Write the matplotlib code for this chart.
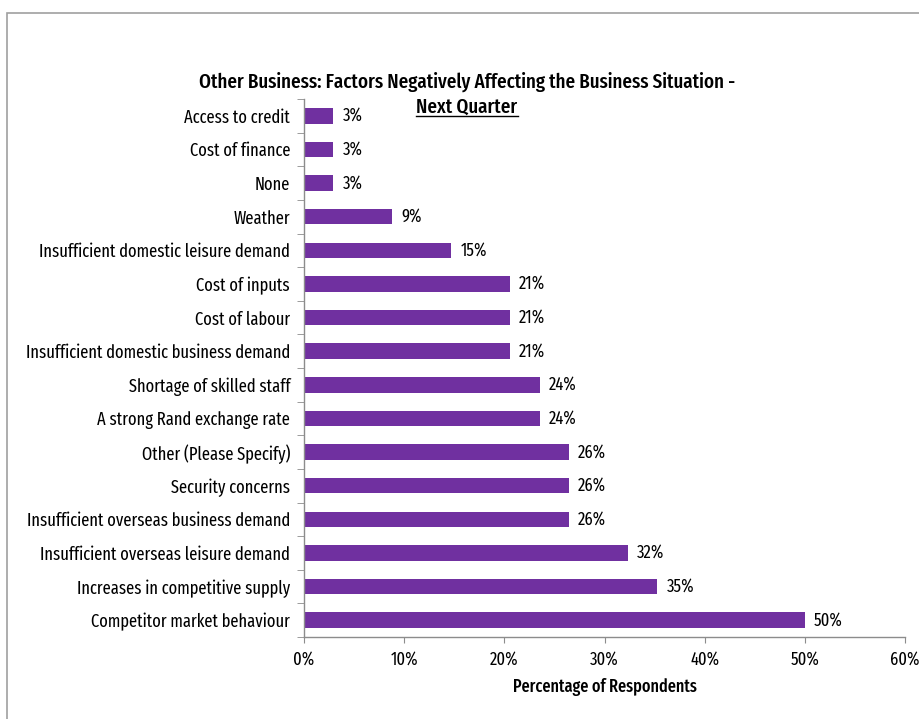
import matplotlib.pyplot as plt
from matplotlib import font_manager
from matplotlib.lines import Line2D
from matplotlib.ticker import FixedLocator, PercentFormatter

# factors, listed bottom to top, with share of respondents (%)
factors = [
    "Competitor market behaviour",
    "Increases in competitive supply",
    "Insufficient overseas leisure demand",
    "Insufficient overseas business demand",
    "Security concerns",
    "Other (Please Specify)",
    "A strong Rand exchange rate",
    "Shortage of skilled staff",
    "Insufficient domestic business demand",
    "Cost of labour",
    "Cost of inputs",
    "Insufficient domestic leisure demand",
    "Weather",
    "None",
    "Cost of finance",
    "Access to credit",
]
shares = [50.0, 35.29, 32.35, 26.47, 26.47, 26.47, 23.53, 23.53,
          20.59, 20.59, 20.59, 14.71, 8.82, 2.94, 2.94, 2.94]
x_ticks = [0, 10, 20, 30, 40, 50, 60]

title = "Other Business: Factors Negatively Affecting the Business Situation -"
subtitle = "Next Quarter"
xlabel = "Percentage of Respondents"

names = {f.name for f in font_manager.fontManager.ttflist}
font = next((f for f in ("Fira Sans Extra Condensed", "PT Sans Narrow", "Carlito")
             if f in names), "DejaVu Sans")
plt.rcParams["font.family"] = [font, "DejaVu Sans"]

BAR = "#7030A0"
AXIS = "#8c8c8c"

fig = plt.figure(figsize=(9.19, 7.19), dpi=100)
renderer = fig.canvas.get_renderer()


def fit_size(s, width_px, weight="normal"):
    # font size at which the string spans width_px
    t = fig.text(0, 0, s, fontsize=10, fontweight=weight)
    w = t.get_window_extent(renderer).width
    t.remove()
    return 10 * width_px / w


label_fs = fit_size("Insufficient domestic business demand", 266)
title_fs = fit_size(title, 537, "medium")
xlabel_fs = fit_size(xlabel, 185, "medium")

fig.patches.append(plt.Rectangle((7 / 919, -0.01), 1.0, 1 - 13 / 719 + 0.01,
                                 transform=fig.transFigure, fill=False,
                                 edgecolor="#a0a0a0", lw=1.2))
ax = fig.add_axes([304 / 919, (719 - 637) / 719, 601 / 919, 538 / 719])

pos = list(range(len(factors)))
ax.barh(pos, shares, height=0.46, color=BAR, zorder=2)
for y, v in zip(pos, shares):
    ax.text(v + 0.9, y, f"{v:.0f}%", va="center", ha="left", fontsize=label_fs)

ax.set_xlim(0, 60)
ax.set_ylim(-0.5, len(factors) - 0.5)
ax.xaxis.set_major_locator(FixedLocator(x_ticks))
ax.xaxis.set_major_formatter(PercentFormatter(decimals=0))
ax.set_yticks(pos)
ax.set_yticklabels(factors, fontsize=label_fs)
ax.set_yticks([p - 0.5 for p in pos] + [len(factors) - 0.5], minor=True)
ax.tick_params(axis="y", which="major", length=0, pad=10)
ax.tick_params(axis="y", which="minor", length=5, color=AXIS, direction="out")
ax.tick_params(axis="x", length=4, color=AXIS, direction="out", labelsize=label_fs, pad=6)

for s in ("top", "right"):
    ax.spines[s].set_visible(False)
for s in ("left", "bottom"):
    ax.spines[s].set_color(AXIS)
    ax.spines[s].set_linewidth(1.0)

ax.set_xlabel(xlabel, fontsize=xlabel_fs, fontweight="medium", labelpad=7)

fig.text(467 / 919, 1 - 82 / 719, title, ha="center", va="center",
         fontsize=title_fs, fontweight="medium")
sub = fig.text(467 / 919, 1 - 107 / 719, subtitle, ha="center", va="center",
               fontsize=title_fs, fontweight="medium")

# underline the second title line
bb = sub.get_window_extent(renderer).transformed(fig.transFigure.inverted())
fig.add_artist(Line2D([bb.x0, bb.x1], [bb.y0 + 0.001, bb.y0 + 0.001],
                      transform=fig.transFigure, color="black", lw=1.0))

fig.savefig("out.png", dpi=100)
